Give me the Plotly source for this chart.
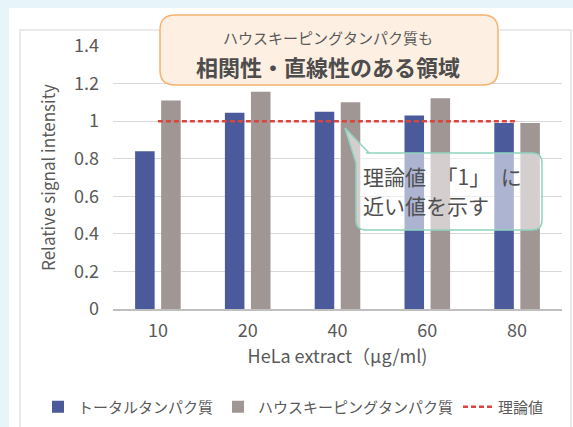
import plotly.graph_objects as go

categories = ["10", "20", "40", "60", "80"]
total_protein = [0.84, 1.045, 1.05, 1.03, 0.99]
housekeeping = [1.11, 1.157, 1.10, 1.122, 0.99]
theory = [1, 1, 1, 1, 1]

series_names = ["トータルタンパク質", "ハウスキーピングタンパク質", "理論値"]
x_title = "HeLa extract（μg/ml)"
y_title = "Relative signal intensity"
box_line1 = "ハウスキーピングタンパク質も"
box_line2 = "相関性・直線性のある領域"
call_line1 = "理論値　「1」　に"
call_line2 = "近い値を示す"

FONT = "Noto Sans CJK JP"
W, H = 573, 427
L, R, T, B = 113, 562, 46, 309

def px(x):
    return (x - L) / (R - L)

def py(y):
    return (B - y) / (B - T)

def rounded_path(x0, y0, x1, y1, r, tail=None):
    def P(x, y):
        return f"{px(x):.5f},{py(y):.5f}"
    s = f"M{P(x0 + r, y0)} L{P(x1 - r, y0)} Q{P(x1, y0)} {P(x1, y0 + r)} "
    s += f"L{P(x1, y1 - r)} Q{P(x1, y1)} {P(x1 - r, y1)} "
    s += f"L{P(x0 + r, y1)} Q{P(x0, y1)} {P(x0, y1 - r)} "
    if tail:
        (lx, ly), (tx, ty), (ux, uy) = tail
        s += f"L{P(lx, ly)} L{P(tx, ty)} L{P(ux, uy)} Z"
    else:
        s += f"L{P(x0, y0 + r)} Q{P(x0, y0)} {P(x0 + r, y0)} Z"
    return s

fig = go.Figure()
fig.add_trace(go.Bar(x=categories, y=total_protein, name=series_names[0],
                     marker=dict(color="#4b5a9b", line=dict(width=0))))
fig.add_trace(go.Bar(x=categories, y=housekeeping, name=series_names[1],
                     marker=dict(color="#a09693", line=dict(width=0))))
fig.add_trace(go.Scatter(x=categories, y=theory, name=series_names[2], mode="lines",
                         line=dict(color="#d9453f", width=2.5, dash="5px,3px")))

shapes = [
    dict(type="rect", xref="paper", yref="paper", x0=px(9), x1=px(W + 5), y0=py(8), y1=py(H + 5),
         fillcolor="white", line=dict(width=0), layer="below"),
    dict(type="rect", xref="paper", yref="paper", x0=px(20), x1=px(571), y0=py(30), y1=py(H + 20),
         fillcolor="rgba(0,0,0,0)", line=dict(color="#e3e3e3", width=1.5), layer="below"),
    dict(type="path", xref="paper", yref="paper", path=rounded_path(160, 15, 498, 85, 15),
         fillcolor="#fdefe2", line=dict(color="#f5b26f", width=1.5), layer="above"),
    dict(type="path", xref="paper", yref="paper",
         path=rounded_path(356, 153, 542, 230, 10, tail=((356, 163), (345, 128), (369, 153))),
         fillcolor="rgba(255,255,255,0.55)", line=dict(color="#8fd3c0", width=1.5), layer="above"),
]

annotations = [
    dict(x=px(328), y=py(37), xref="paper", yref="paper", text=box_line1, showarrow=False,
         font=dict(family=FONT, size=15, color="#595959"), xanchor="center", yanchor="middle"),
    dict(x=px(328), y=py(66), xref="paper", yref="paper", text=f"<b>{box_line2}</b>", showarrow=False,
         font=dict(family=FONT, size=22, color="#4d4d4d"), xanchor="center", yanchor="middle"),
    dict(x=px(361), y=py(176), xref="paper", yref="paper", text=call_line1, showarrow=False,
         font=dict(family=FONT, size=21, color="#505050"), xanchor="left", yanchor="middle"),
    dict(x=px(361), y=py(205), xref="paper", yref="paper", text=call_line2, showarrow=False,
         font=dict(family=FONT, size=21, color="#505050"), xanchor="left", yanchor="middle"),
]

fig.update_layout(
    width=W, height=H,
    margin=dict(l=L, r=W - R, t=T, b=H - B, pad=0, autoexpand=False),
    paper_bgcolor="#e7f4fa",
    plot_bgcolor="rgba(0,0,0,0)",
    font=dict(family=FONT, color="#595959"),
    barmode="group", bargap=0.42, bargroupgap=0.25,
    showlegend=True,
    legend=dict(orientation="h", x=px(38), y=py(407), xanchor="left", yanchor="middle",
                font=dict(family=FONT, size=15, color="#595959"),
                bgcolor="rgba(0,0,0,0)", traceorder="normal", itemwidth=30),
    shapes=shapes,
    annotations=annotations,
)
fig.update_xaxes(type="category", showgrid=False, showline=True, linecolor="#bfbfbf", linewidth=1.5,
                 automargin=False,
                 ticks="", tickfont=dict(size=18, color="#595959"), ticklabelstandoff=5,
                 title=dict(text=x_title, font=dict(size=18, color="#595959"), standoff=6))
fig.update_yaxes(range=[0, 1.4], dtick=0.2, showgrid=True, gridcolor="#d9d9d9", gridwidth=1,
                 automargin=False,
                 zeroline=False, showline=False, ticks="",
                 tickfont=dict(size=18, color="#595959"), ticklabelstandoff=13,
                 title=dict(text=y_title, font=dict(size=17, color="#595959"), standoff=14))

fig.write_html("out.html", config={"displayModeBar": False},
               post_script="document.body.style.margin='0';document.body.style.overflow='hidden';")
